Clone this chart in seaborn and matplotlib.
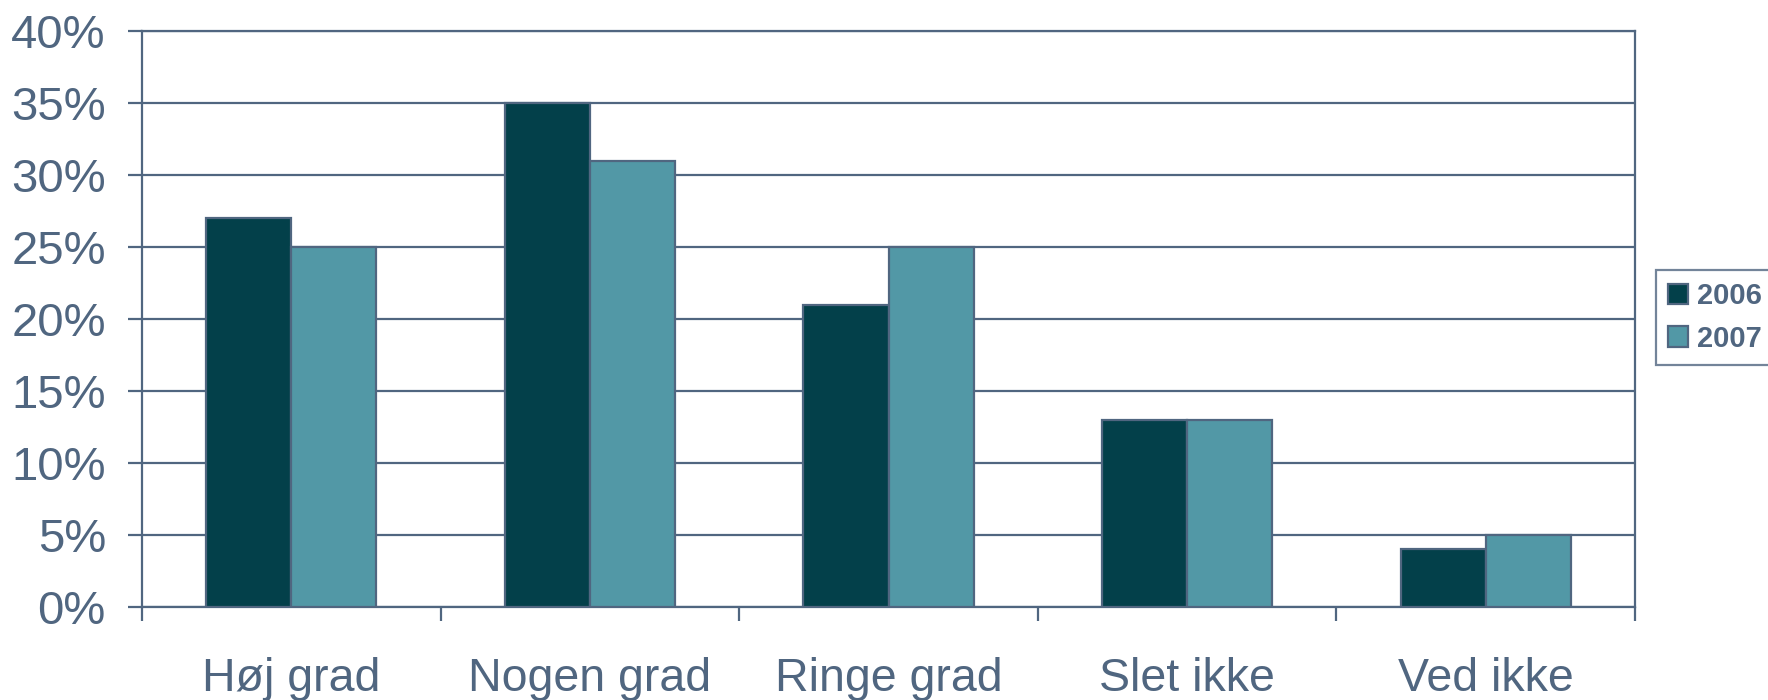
import matplotlib
matplotlib.use("Agg")
import matplotlib.pyplot as plt
import seaborn as sns
import pandas as pd
from matplotlib.ticker import PercentFormatter

categories = ["Høj grad", "Nogen grad", "Ringe grad", "Slet ikke", "Ved ikke"]
years = ["2006", "2007"]
values_2006 = [27, 35, 21, 13, 4]
values_2007 = [25, 31, 25, 13, 5]
y_ticks = [0, 5, 10, 15, 20, 25, 30, 35, 40]

df = pd.DataFrame({
    "kategori": categories * 2,
    "år": [years[0]] * len(categories) + [years[1]] * len(categories),
    "andel": values_2006 + values_2007,
})

sns.set_theme(style="white")
plt.rcParams["font.family"] = ["Liberation Sans", "DejaVu Sans"]

ink = "#506680"
palette = {"2006": "#03404A", "2007": "#5298A6"}

fig = plt.figure(figsize=(17.68, 7.0), dpi=100)
ax = fig.add_axes([0.0803, 0.1329, 0.9248 - 0.0803, 0.9557 - 0.1329])

sns.barplot(data=df, x="kategori", y="andel", hue="år", palette=palette,
            width=0.57, edgecolor=ink, linewidth=1.6, saturation=1,
            ax=ax, zorder=3, legend=True)

ax.set_ylim(0, 40)
ax.set_xlim(-0.5, len(categories) - 0.5)
ax.set_yticks(y_ticks)
ax.yaxis.set_major_formatter(PercentFormatter(decimals=0))
ax.yaxis.grid(True, color=ink, linewidth=1.6, zorder=0)
ax.set_axisbelow(True)

# category boundaries carry the tick marks, centres carry the labels
bounds = [i - 0.5 for i in range(len(categories) + 1)]
ax.set_xticks(bounds)
ax.set_xticklabels([""] * len(bounds))
ax.set_xticks(range(len(categories)), minor=True)
ax.set_xticklabels(categories, minor=True)
ax.tick_params(axis="x", which="major", direction="out", length=10, width=1.6,
               color=ink, bottom=True)
ax.tick_params(axis="x", which="minor", length=0, pad=36, labelsize=33.5,
               labelcolor=ink)
ax.tick_params(axis="y", direction="out", length=10, width=1.6, color=ink,
               left=True, pad=16, labelsize=34, labelcolor=ink)

for side in ["left", "right", "bottom", "top"]:
    ax.spines[side].set_visible(True)
    ax.spines[side].set_color(ink)
    ax.spines[side].set_linewidth(1.6)

ax.set_xlabel("")
ax.set_ylabel("")

handles, labels = ax.get_legend_handles_labels()
ax.get_legend().remove()
leg = fig.legend(handles, labels, loc="upper left",
                 bbox_to_anchor=(0.9366, 0.6143), bbox_transform=fig.transFigure,
                 frameon=True, fancybox=False, prop={"size": 21, "weight": "bold"},
                 handlelength=0.69, handleheight=0.69, handletextpad=0.3,
                 labelspacing=0.5, borderpad=0.42, borderaxespad=0)
leg.get_frame().set_edgecolor(ink)
leg.get_frame().set_linewidth(1.6)
for t in leg.get_texts():
    t.set_color(ink)

fig.savefig("out.png", dpi=100)
